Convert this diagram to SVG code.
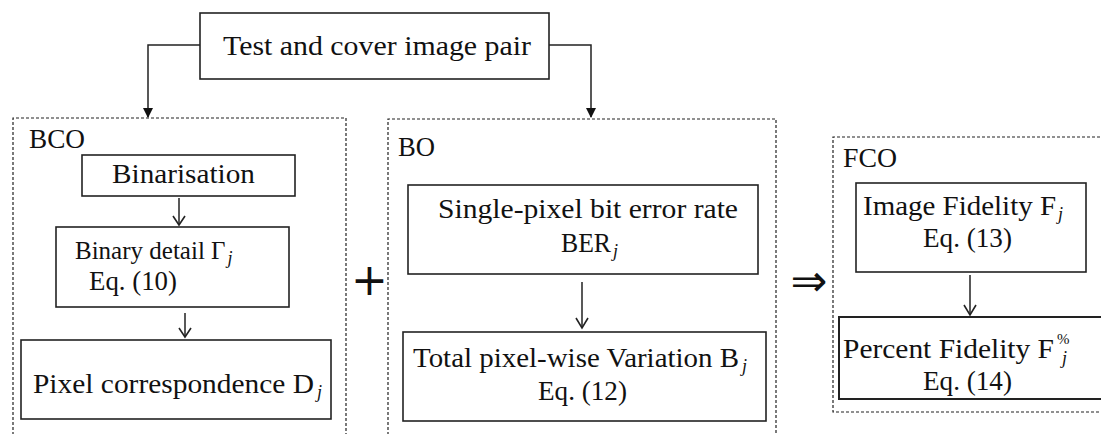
<svg xmlns="http://www.w3.org/2000/svg" width="1101" height="434" viewBox="0 0 1101 434">
<defs>
<style>
.t{font-family:"Liberation Serif",serif;font-size:27px;fill:#111}
.s{font-family:"Liberation Serif",serif;font-size:18px;font-style:italic;fill:#111}
.sup{font-family:"Liberation Serif",serif;font-size:15px;fill:#111}
.sym{font-family:"DejaVu Sans",sans-serif;fill:#111}
.box{fill:#fff;stroke:#222;stroke-width:1.6}
.grp{fill:none;stroke:#222;stroke-width:1.2;stroke-dasharray:3 2}
.ln{fill:none;stroke:#222;stroke-width:1.5}
.open{fill:none;stroke:#222;stroke-width:1.6}
</style>
<marker id="tri" markerWidth="10" markerHeight="10" refX="9" refY="5" orient="auto" markerUnits="userSpaceOnUse">
<path d="M0,0 L10,5 L0,10 Z" fill="#111"/>
</marker>
</defs>

<g id="group-BCO">
<path class="grp" d="M13,440 V118 H346 V440"/>
<text class="t" x="29" y="148" textLength="56" lengthAdjust="spacingAndGlyphs">BCO</text>
</g>
<g id="group-BO">
<path class="grp" d="M388,440 V119 H776 V440"/>
<text class="t" x="398" y="156" textLength="37" lengthAdjust="spacingAndGlyphs">BO</text>
</g>
<g id="group-FCO">
<path class="grp" d="M1110,137 H833 V412 H1110"/>
<text class="t" x="843" y="167" textLength="54" lengthAdjust="spacingAndGlyphs">FCO</text>
</g>

<g id="connectors">
<polyline class="ln" points="200,45 148,45 148,117" marker-end="url(#tri)"/>
<polyline class="ln" points="549,45 591,45 591,117" marker-end="url(#tri)"/>
<line class="ln" x1="179" y1="198" x2="179" y2="224"/>
<polyline class="open" points="173,216 179,225 185,216"/>
<line class="ln" x1="185" y1="313" x2="185" y2="336"/>
<polyline class="open" points="179,328 185,337 191,328"/>
<line class="ln" x1="582" y1="282" x2="582" y2="327"/>
<polyline class="open" points="576,318 582,328 588,318"/>
<line class="ln" x1="970" y1="275" x2="970" y2="314"/>
<polyline class="open" points="964,305 970,315 976,305"/>
<text class="sym" x="369.5" y="295" font-size="44" text-anchor="middle">+</text>
<text class="sym" x="809" y="296" font-size="44" text-anchor="middle">⇒</text>
</g>

<g id="node-top">
<rect class="box" x="200" y="13" width="349" height="66"/>
<text class="t" x="223" y="55" textLength="308" lengthAdjust="spacingAndGlyphs">Test and cover image pair</text>
</g>

<g id="node-binarisation">
<rect class="box" x="82" y="155" width="213" height="41"/>
<text class="t" x="112" y="183" textLength="143" lengthAdjust="spacingAndGlyphs">Binarisation</text>
</g>

<g id="node-binary-detail">
<rect class="box" x="56" y="227" width="233" height="80"/>
<text class="t" x="75" y="259" style="font-size:25px">Binary detail Γ<tspan class="s" dx="2" dy="5">j</tspan></text>
<text class="t" x="89" y="290" textLength="88" lengthAdjust="spacingAndGlyphs">Eq. (10)</text>
</g>

<g id="node-pixel-correspondence">
<rect class="box" x="21" y="340" width="310" height="79"/>
<text class="t" x="33" y="393" textLength="281" lengthAdjust="spacingAndGlyphs">Pixel correspondence D</text>
<text class="s" x="317" y="398">j</text>
</g>

<g id="node-ber">
<rect class="box" x="408" y="185" width="350" height="89"/>
<text class="t" x="438" y="218" textLength="300" lengthAdjust="spacingAndGlyphs">Single-pixel bit error rate</text>
<text class="t" x="561" y="252" textLength="50" lengthAdjust="spacingAndGlyphs">BER</text>
<text class="s" x="613" y="257">j</text>
</g>

<g id="node-total-variation">
<rect class="box" x="403" y="332" width="363" height="89"/>
<text class="t" x="413" y="367" textLength="326" lengthAdjust="spacingAndGlyphs">Total pixel-wise Variation B</text>
<text class="s" x="742" y="372">j</text>
<text class="t" x="538" y="400" textLength="89" lengthAdjust="spacingAndGlyphs">Eq. (12)</text>
</g>

<g id="node-image-fidelity">
<rect class="box" x="856" y="183" width="230" height="89"/>
<text class="t" x="863" y="215" textLength="193" lengthAdjust="spacingAndGlyphs">Image Fidelity F</text>
<text class="s" x="1058" y="220">j</text>
<text class="t" x="923" y="247" textLength="89" lengthAdjust="spacingAndGlyphs">Eq. (13)</text>
</g>

<g id="node-percent-fidelity">
<rect class="box" x="839" y="317" width="264" height="82" style="stroke-width:2"/>
<text class="t" x="843" y="358" textLength="211" lengthAdjust="spacingAndGlyphs">Percent Fidelity F</text>
<text class="sup" x="1057" y="344">%</text>
<text class="s" x="1062" y="364">j</text>
<text class="t" x="923" y="390" textLength="89" lengthAdjust="spacingAndGlyphs">Eq. (14)</text>
</g>
</svg>
